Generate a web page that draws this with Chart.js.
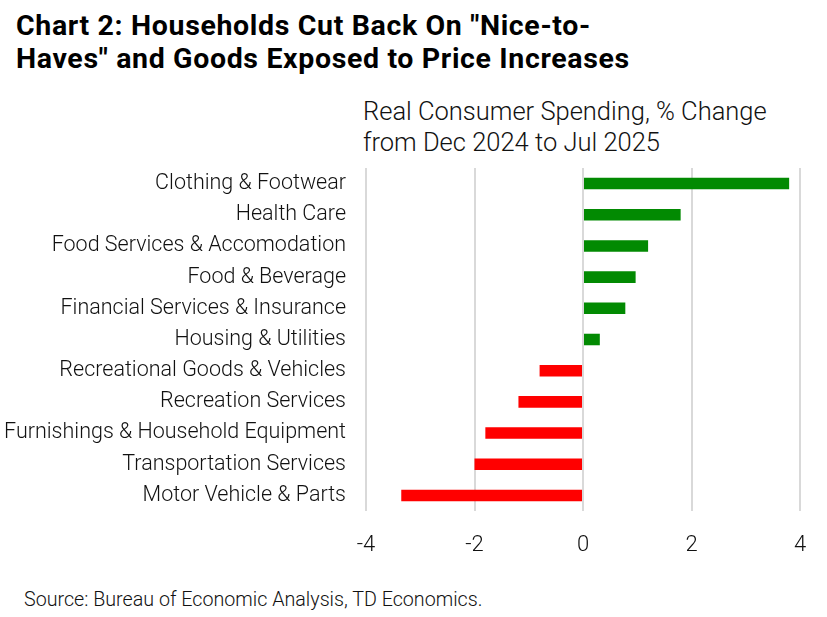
<!DOCTYPE html>
<html>
<head>
<meta charset="utf-8">
<script src="https://cdn.jsdelivr.net/npm/chart.js@4"></script>
<style>
  body { margin: 0; background: #fff; }
  #page { position: relative; width: 827px; height: 617px; overflow: hidden; font-family: Roboto, sans-serif; color: #111; }
  #title { position: absolute; left: 16px; top: 9px; font-size: 28.5px; font-weight: 700; line-height: 33px; letter-spacing: 0.65px; color: #000; white-space: nowrap; }
  #subtitle { position: absolute; left: 363px; top: 96px; font-size: 25.5px; font-weight: 300; line-height: 31px; }
  #source { position: absolute; left: 24px; top: 588px; font-size: 19.7px; font-weight: 300; }
  #wrap { position: absolute; left: 0; top: 160px; width: 827px; height: 400px; }
</style>
</head>
<body>
<div id="page">
  <div id="title">Chart 2: Households Cut Back On "Nice-to-<br>Haves" and Goods Exposed to Price Increases</div>
  <div id="subtitle">Real Consumer Spending, % Change<br>from Dec 2024 to Jul 2025</div>
  <div id="wrap"><canvas id="chart" width="827" height="400"></canvas></div>
  <div id="source">Source: Bureau of Economic Analysis, TD Economics.</div>
</div>
<script>
  const categories = [
    'Clothing & Footwear',
    'Health Care',
    'Food Services & Accomodation',
    'Food & Beverage',
    'Financial Services & Insurance',
    'Housing & Utilities',
    'Recreational Goods & Vehicles',
    'Recreation Services',
    'Furnishings & Household Equipment',
    'Transportation Services',
    'Motor Vehicle & Parts'
  ];
  const changes = [3.8, 1.8, 1.2, 0.97, 0.78, 0.31, -0.8, -1.19, -1.8, -2.0, -3.35];
  const xTicks = [-4, -2, 0, 2, 4];

  const green = '#028a02';
  const red = '#ff0000';

  new Chart(document.getElementById('chart').getContext('2d'), {
    type: 'bar',
    data: {
      labels: categories,
      datasets: [{
        data: changes,
        backgroundColor: (ctx) => (ctx.raw >= 0 ? green : red),
        borderWidth: 0,
        categoryPercentage: 1,
        barPercentage: 0.37
      }]
    },
    options: {
      indexAxis: 'y',
      responsive: false,
      animation: false,
      layout: { padding: { top: 8, right: 27, bottom: 0, left: 0 } },
      plugins: { legend: { display: false }, tooltip: { enabled: false } },
      scales: {
        x: {
          min: -4,
          max: 4,
          afterBuildTicks: (scale) => { scale.ticks = xTicks.map((v) => ({ value: v })); },
          grid: { color: '#d9d9d9', lineWidth: 2, drawTicks: false },
          border: { display: false },
          ticks: { color: '#111', font: { family: 'Roboto', size: 22, weight: 300 }, padding: 21 },
          afterFit: (scale) => {
            scale.height = 49;
            scale.paddingLeft = 0;
            scale.paddingRight = 0;
          }
        },
        y: {
          grid: { display: false, drawTicks: false },
          border: { display: false },
          ticks: { color: '#111', font: { family: 'Roboto', size: 21.5, weight: 300 }, padding: 20, autoSkip: false },
          afterFit: (scale) => {
            scale.width = 366;
            scale.paddingTop = 0;
            scale.paddingBottom = 0;
          }
        }
      }
    }
  });
</script>
</body>
</html>
